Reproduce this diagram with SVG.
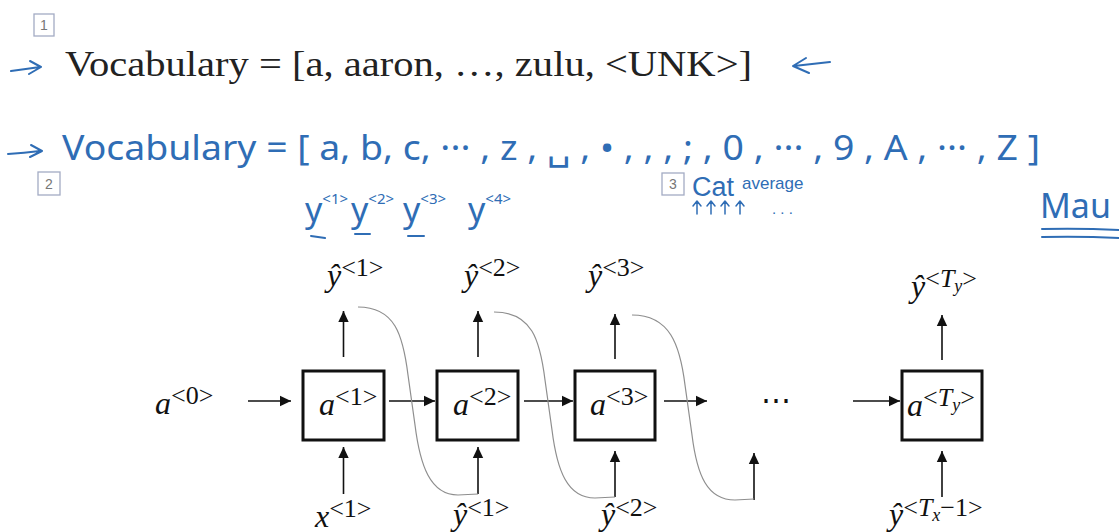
<svg xmlns="http://www.w3.org/2000/svg" width="1119" height="532" viewBox="0 0 1119 532">
<style>
.tag{fill:none;stroke:#a3abc4;stroke-width:1.3}
.tagn{font-family:"Liberation Sans",sans-serif;font-size:14px;fill:#777;text-anchor:middle}
.hw{font-family:"Noto Sans","DejaVu Sans",sans-serif;fill:#2f6db5}
.hs{font-family:"Liberation Sans","DejaVu Sans",sans-serif;fill:#2f6db5}
.hwl{fill:none;stroke:#2f6db5;stroke-width:2;stroke-linecap:round;stroke-linejoin:round}
.hwt{fill:none;stroke:#2f6db5;stroke-width:1.5;stroke-linecap:round;stroke-linejoin:round}
.title{font-family:"Liberation Serif",serif;font-size:35px;fill:#222}
.m{font-family:"Liberation Serif",serif;font-size:32px;fill:#111}
.i{font-style:italic}
.sup{font-size:26px}
.sub{font-size:18px;font-style:italic}
.box{fill:#fff;stroke:#111;stroke-width:3}
.ar{stroke:#111;stroke-width:1.6;fill:none;marker-end:url(#ah)}
.cv{stroke:#8e8e8e;stroke-width:1.2;fill:none}
</style>
<defs>
<marker id="ah" markerUnits="userSpaceOnUse" markerWidth="12" markerHeight="12" refX="11" refY="6" orient="auto">
<path d="M0,0.8 L11,6 L0,11.2 z" fill="#111"/>
</marker>
</defs>
<rect width="1119" height="532" fill="#fff"/>

<g id="line1">
<rect class="tag" x="34" y="14" width="20" height="22"/>
<text class="tagn" x="44" y="30">1</text>
<path class="hwl" d="M11,71 Q26,69 40,67 M30,61 L41,67 L29,74"/>
<text class="title" x="65" y="76" textLength="687" lengthAdjust="spacingAndGlyphs">Vocabulary = [a, aaron, …, zulu, &lt;UNK&gt;]</text>
<path class="hwl" d="M794,66 Q812,64 830,62 M806,58 L793,66 L809,73"/>
</g>

<g id="line2">
<path class="hwl" d="M8,154 Q24,153 40,151 M31,145 L42,151 L30,157"/>
<text class="hw" x="62" y="160" font-size="34" textLength="978" lengthAdjust="spacingAndGlyphs">Vocabulary = [ a, b, c, ··· , z , ␣ , • , , , ; , 0 , ··· , 9 , A , ··· , Z ]</text>
<rect class="tag" x="38" y="172" width="22" height="23"/>
<text class="tagn" x="49" y="189">2</text>
</g>

<g id="ylist">
<text class="hw" font-size="34" x="305" y="222">y<tspan font-size="15" dy="-18">&lt;1&gt;</tspan></text>
<text class="hw" font-size="34" x="351" y="222">y<tspan font-size="15" dy="-18">&lt;2&gt;</tspan></text>
<text class="hw" font-size="34" x="403" y="222">y<tspan font-size="15" dy="-18">&lt;3&gt;</tspan></text>
<text class="hw" font-size="34" x="468" y="222">y<tspan font-size="15" dy="-18">&lt;4&gt;</tspan></text>
<path class="hwl" d="M311,236 L325,238 M355,234 L370,234 M408,236 L424,236"/>
</g>

<g id="note3">
<rect class="tag" x="662" y="173" width="22" height="22"/>
<text class="tagn" x="673" y="189">3</text>
<text class="hs" font-size="27" x="692" y="196">Cat</text>
<text class="hs" font-size="17" x="742" y="189">average</text>
<path class="hwt" d="M697,214 L697,202 M693,206 L697,201 L701,206 M711,214 L711,202 M707,206 L711,201 L715,206 M725,214 L725,202 M721,206 L725,201 L729,206 M740,214 L740,202 M736,206 L740,201 L744,206"/>
<text class="hs" font-size="15" x="772" y="214">. . .</text>
</g>

<g id="mau">
<text class="hw" font-size="34" x="1040" y="218">Mau</text>
<path class="hwl" d="M1042,229 Q1080,228 1119,230 M1042,237 Q1080,236 1119,238"/>
</g>

<g id="connectors">
<path class="ar" d="M248,401 L291,401"/>
<path class="ar" d="M389,401 L435,401"/>
<path class="ar" d="M524,401 L573,401"/>
<path class="ar" d="M664,401 L707,401"/>
<path class="ar" d="M853,401 L900,401"/>
<path class="ar" d="M343.5,357 L343.5,311"/>
<path class="ar" d="M478,357 L478,311"/>
<path class="ar" d="M615,359 L615,314"/>
<path class="ar" d="M942,360 L942,315"/>
<path class="ar" d="M343.5,494 L343.5,447"/>
<path class="ar" d="M478,494 L478,447"/>
<path class="ar" d="M615,497 L615,451"/>
<path class="ar" d="M754,500 L754,453"/>
<path class="ar" d="M942,497 L942,451"/>
<path class="cv" d="M358,307 C395,307 403,335 408,375 L415,425 C420,465 430,495 458,495 L478,494"/>
<path class="cv" d="M494,312 C532,312 540,340 545,380 L552,430 C557,470 567,498 595,498 L615,497"/>
<path class="cv" d="M632,315 C670,315 680,345 685,385 L692,435 C697,475 707,500 735,500 L754,499"/>
</g>

<g id="a0"><text class="m" x="155" y="414"><tspan class="i">a</tspan><tspan class="sup" dy="-10">&lt;0&gt;</tspan></text></g>

<g id="cell1">
<rect class="box" x="303" y="371" width="81" height="69"/>
<text class="m" x="319" y="415"><tspan class="i">a</tspan><tspan class="sup" dy="-10">&lt;1&gt;</tspan></text>
</g>
<g id="cell2">
<rect class="box" x="437" y="371" width="81" height="69"/>
<text class="m" x="453" y="415"><tspan class="i">a</tspan><tspan class="sup" dy="-10">&lt;2&gt;</tspan></text>
</g>
<g id="cell3">
<rect class="box" x="575" y="371" width="80" height="69"/>
<text class="m" x="590" y="415"><tspan class="i">a</tspan><tspan class="sup" dy="-10">&lt;3&gt;</tspan></text>
</g>
<g id="dots"><text x="776" y="410" text-anchor="middle" font-family="DejaVu Serif,serif" font-size="30" fill="#111">⋯</text></g>
<g id="cell4">
<rect class="box" x="902" y="371" width="80" height="69"/>
<text class="m" x="907" y="416"><tspan class="i">a</tspan><tspan class="sup" dy="-10">&lt;<tspan class="i">T</tspan><tspan class="sub" dy="5">y</tspan><tspan dy="-5">&gt;</tspan></tspan></text>
</g>

<g id="yhat1"><text class="m" x="327" y="286"><tspan class="i">ŷ</tspan><tspan class="sup" dy="-10">&lt;1&gt;</tspan></text></g>
<g id="yhat2"><text class="m" x="464" y="286"><tspan class="i">ŷ</tspan><tspan class="sup" dy="-10">&lt;2&gt;</tspan></text></g>
<g id="yhat3"><text class="m" x="588" y="286"><tspan class="i">ŷ</tspan><tspan class="sup" dy="-10">&lt;3&gt;</tspan></text></g>
<g id="yhatT"><text class="m" x="911" y="297"><tspan class="i">ŷ</tspan><tspan class="sup" dy="-10">&lt;<tspan class="i">T</tspan><tspan class="sub" dy="5">y</tspan><tspan dy="-5">&gt;</tspan></tspan></text></g>

<g id="x1"><text class="m" x="315" y="527"><tspan class="i">x</tspan><tspan class="sup" dy="-10">&lt;1&gt;</tspan></text></g>
<g id="in2"><text class="m" x="453" y="525"><tspan class="i">ŷ</tspan><tspan class="sup" dy="-9">&lt;1&gt;</tspan></text></g>
<g id="in3"><text class="m" x="601" y="525"><tspan class="i">ŷ</tspan><tspan class="sup" dy="-9">&lt;2&gt;</tspan></text></g>
<g id="inT"><text class="m" x="889" y="525"><tspan class="i">ŷ</tspan><tspan class="sup" dy="-9">&lt;<tspan class="i">T</tspan><tspan class="sub" dy="5">x</tspan><tspan dy="-5">−1&gt;</tspan></tspan></text></g>
</svg>
